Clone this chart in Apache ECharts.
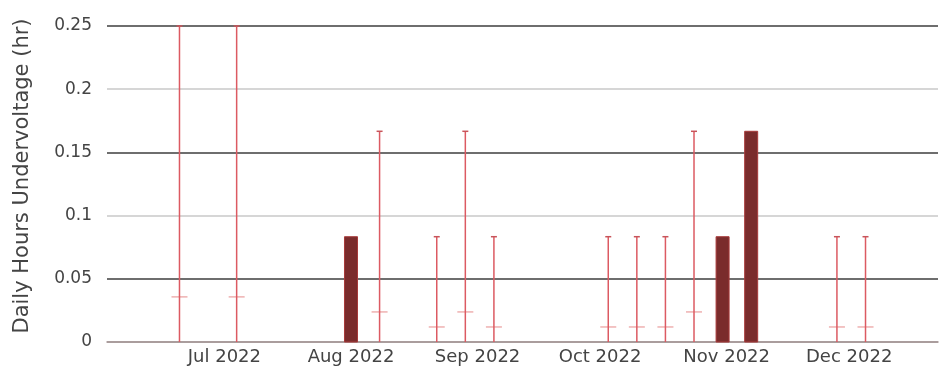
<!DOCTYPE html>
<html>
<head>
<meta charset="utf-8">
<script src="https://cdn.jsdelivr.net/npm/echarts@6/dist/echarts.min.js"></script>
<style>
  html, body { margin: 0; padding: 0; background: #fff; }
  #chart { width: 943px; height: 368px; }
</style>
</head>
<body>
<div id="chart"></div>
<script>
// Weeks whose daily values vary: range bar from 0 to the daily maximum, tick at the weekly mean
const rangeWeeks = ['2022-06-20', '2022-07-04', '2022-08-08', '2022-08-22', '2022-08-29', '2022-09-05',
                    '2022-10-03', '2022-10-10', '2022-10-17', '2022-10-24', '2022-11-28', '2022-12-05'];
const rangeMax   = [0.25, 0.25, 0.1667, 0.0833, 0.1667, 0.0833,
                    0.0833, 0.0833, 0.0833, 0.1667, 0.0833, 0.0833];
const rangeMean  = [0.0357, 0.0357, 0.0238, 0.0119, 0.0238, 0.0119,
                    0.0119, 0.0119, 0.0119, 0.0238, 0.0119, 0.0119];

// Weeks drawn as solid bars
const barWeeks  = ['2022-08-01', '2022-10-31', '2022-11-07'];
const barValues = [0.0833, 0.0833, 0.1667];

// Axis ticks
const yTicks = [0, 0.05, 0.1, 0.15, 0.2, 0.25];
const monthNames = ['Jan', 'Feb', 'Mar', 'Apr', 'May', 'Jun', 'Jul', 'Aug', 'Sep', 'Oct', 'Nov', 'Dec'];

const DAY = 864e5;
const xMin = Date.parse('2022-06-20T00:00:00Z') - 17.75 * DAY;
const xMax = Date.parse('2022-12-05T00:00:00Z') + 17.75 * DAY;

const rangeData = rangeWeeks.map((d, i) => [Date.parse(d + 'T00:00:00Z'), rangeMax[i], rangeMean[i]]);
const barData = barWeeks.map((d, i) => [Date.parse(d + 'T00:00:00Z'), barValues[i]]);

const font = 'DejaVu Sans, Verdana, sans-serif';
const BAR_W = 13;

const chart = echarts.init(document.getElementById('chart'), null, { renderer: 'canvas' });
chart.setOption({
  backgroundColor: '#ffffff',
  animation: false,
  grid: { left: 107, right: 5, top: 26, bottom: 26, containLabel: false },
  xAxis: {
    type: 'time',
    min: xMin,
    max: xMax,
    minInterval: 28 * DAY,
    maxInterval: 31 * DAY,
    axisLine: { show: true, lineStyle: { color: '#a09090', width: 1.5 } },
    axisTick: { show: false },
    splitLine: { show: false },
    axisLabel: {
      fontFamily: font,
      fontSize: 18,
      color: '#444',
      margin: 6,
      hideOverlap: false,
      formatter: function (val) {
        if (val < xMin || val > xMax) return '';
        const d = new Date(val);
        if (d.getUTCDate() !== 1 || d.getUTCHours() !== 0) return '';
        return monthNames[d.getUTCMonth()] + ' ' + d.getUTCFullYear();
      }
    }
  },
  yAxis: {
    type: 'value',
    min: yTicks[0],
    max: yTicks[yTicks.length - 1],
    interval: 0.05,
    name: 'Daily Hours Undervoltage (hr)',
    nameLocation: 'middle',
    nameRotate: 90,
    nameGap: 74,
    nameTextStyle: { fontFamily: font, fontSize: 21, color: '#444', padding: [0, 0, 0, 16] },
    axisLine: { show: false },
    axisTick: { show: false },
    axisLabel: { fontFamily: font, fontSize: 17, color: '#444', margin: 15 },
    splitLine: {
      show: true,
      lineStyle: { color: ['#b8b0b0', '#3e3e3e', '#c8c8c8', '#3e3e3e', '#c8c8c8', '#3e3e3e'], width: 1.6 }
    }
  },
  series: [
    {
      // solid weekly bars
      type: 'custom',
      data: barData,
      z: 3,
      renderItem: function (params, api) {
        const x = api.value(0);
        const top = api.coord([x, api.value(1)]);
        const base = api.coord([x, 0]);
        return {
          type: 'rect',
          shape: { x: top[0] - BAR_W / 2, y: top[1], width: BAR_W, height: base[1] - top[1] },
          style: { fill: '#7a2c2c', stroke: '#a83a3a', lineWidth: 1 }
        };
      }
    },
    {
      // range bars with mean tick
      type: 'custom',
      data: rangeData,
      z: 4,
      renderItem: function (params, api) {
        const x = api.value(0);
        const top = api.coord([x, api.value(1)]);
        const base = api.coord([x, 0]);
        const mean = api.coord([x, api.value(2)]);
        return {
          type: 'group',
          children: [
            {
              type: 'line',
              shape: { x1: mean[0] - 8, y1: mean[1], x2: mean[0] + 8, y2: mean[1] },
              style: { stroke: 'rgba(232,150,150,0.75)', lineWidth: 1.5 }
            },
            {
              type: 'line',
              shape: { x1: base[0], y1: base[1], x2: top[0], y2: top[1] },
              style: { stroke: '#dc5a62', lineWidth: 1.5 }
            },
            {
              type: 'line',
              shape: { x1: top[0] - 3, y1: top[1], x2: top[0] + 3, y2: top[1] },
              style: { stroke: '#c8545a', lineWidth: 1.5 }
            }
          ]
        };
      }
    }
  ]
});
</script>
</body>
</html>
